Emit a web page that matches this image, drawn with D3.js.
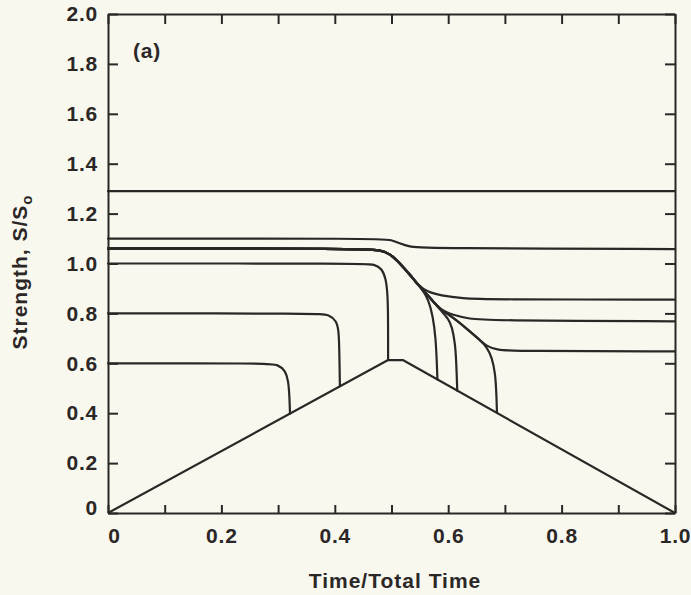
<!DOCTYPE html>
<html>
<head>
<meta charset="utf-8">
<script src="https://cdn.jsdelivr.net/npm/d3@7"></script>
<style>
  html, body { margin: 0; padding: 0; background: #f9f8ee; }
  svg { display: block; }
  text { font-family: "Liberation Sans", Arial, Helvetica, sans-serif; font-weight: bold; fill: #2b2727; }
</style>
</head>
<body>
<svg id="chart" width="691" height="595"></svg>
<script>
// Axis ticks
const timeTicks = [0, 0.1, 0.2, 0.3, 0.4, 0.5, 0.6, 0.7, 0.8, 0.9, 1.0];
const timeLabels = ["0", "", "0.2", "", "0.4", "", "0.6", "", "0.8", "", "1.0"];
const strengthTicks = [0, 0.2, 0.4, 0.6, 0.8, 1.0, 1.2, 1.4, 1.6, 1.8, 2.0];
const strengthLabels = ["0", "0.2", "0.4", "0.6", "0.8", "1.0", "1.2", "1.4", "1.6", "1.8", "2.0"];

// Applied stress history (time/total time, S/So)
const appliedStress = [[0, 0], [0.494, 0.613], [0.52, 0.613], [1.0, 0]];

// Strength histories, one per specimen
const strength129 = [[0, 1.29], [1.0, 1.29]];
const strength110 = [[0, 1.10], [0.48, 1.10], [0.50, 1.095], [0.515, 1.08], [0.533, 1.066], [0.56, 1.061], [1.0, 1.058]];
const strength106to086 = [[0, 1.06], [0.45, 1.06], [0.48, 1.054], [0.497, 1.04], [0.515, 1.0], [0.533, 0.954], [0.547, 0.914], [0.563, 0.886], [0.586, 0.872], [0.626, 0.86], [0.668, 0.856], [1.0, 0.855]];
const strength106fail058 = [[0, 1.06], [0.45, 1.06], [0.48, 1.054], [0.497, 1.04], [0.515, 1.0], [0.533, 0.954], [0.547, 0.914], [0.556, 0.89], [0.565, 0.855], [0.573, 0.79], [0.578, 0.70], [0.580, 0.60], [0.581, 0.535]];
const strength106to077 = [[0, 1.06], [0.45, 1.06], [0.48, 1.054], [0.497, 1.04], [0.515, 1.0], [0.533, 0.954], [0.547, 0.914], [0.57, 0.858], [0.586, 0.814], [0.608, 0.794], [0.638, 0.778], [0.668, 0.772], [1.0, 0.768]];
const strength106fail062 = [[0, 1.06], [0.45, 1.06], [0.48, 1.054], [0.497, 1.04], [0.515, 1.0], [0.533, 0.954], [0.547, 0.914], [0.57, 0.858], [0.586, 0.814], [0.600, 0.78], [0.607, 0.745], [0.612, 0.68], [0.614, 0.62], [0.616, 0.49]];
const strength106to065 = [[0, 1.06], [0.45, 1.06], [0.48, 1.054], [0.497, 1.04], [0.515, 1.0], [0.533, 0.954], [0.547, 0.914], [0.57, 0.858], [0.586, 0.814], [0.608, 0.786], [0.638, 0.728], [0.656, 0.693], [0.668, 0.668], [0.686, 0.653], [0.72, 0.649], [1.0, 0.648]];
const strength106fail069 = [[0, 1.06], [0.45, 1.06], [0.48, 1.054], [0.497, 1.04], [0.515, 1.0], [0.533, 0.954], [0.547, 0.914], [0.57, 0.858], [0.586, 0.814], [0.608, 0.786], [0.638, 0.728], [0.656, 0.693], [0.668, 0.665], [0.677, 0.625], [0.683, 0.56], [0.685, 0.48], [0.686, 0.402]];
const strength100 = [[0, 1.0], [0.45, 1.0], [0.47, 0.997], [0.483, 0.98], [0.49, 0.94], [0.493, 0.88], [0.494, 0.80], [0.494, 0.613]];
const strength080 = [[0, 0.80], [0.37, 0.80], [0.39, 0.795], [0.403, 0.77], [0.407, 0.73], [0.408, 0.65], [0.409, 0.508]];
const strength060 = [[0, 0.60], [0.28, 0.60], [0.30, 0.595], [0.313, 0.57], [0.318, 0.53], [0.320, 0.47], [0.321, 0.398]];

const strengthSeries = [
  strength129, strength110, strength106to086, strength106fail058, strength106to077,
  strength106fail062, strength106to065, strength106fail069, strength100, strength080, strength060
];

const ink = "#2b2727";
const svg = d3.select("#chart");

const x = d3.scaleLinear().domain([0, 1]).range([108, 675]);
const y = d3.scaleLinear().domain([0, 2]).range([513, 14]);

// Frame and inward ticks on all four sides
function styleAxis(g) {
  g.select(".domain").attr("stroke", ink).attr("stroke-width", 2);
  g.selectAll(".tick line").attr("stroke", ink).attr("stroke-width", 2);
  g.selectAll(".tick text")
    .attr("font-size", 21)
    .attr("letter-spacing", 0.8)
    .attr("font-family", null)
    .attr("fill", ink);
}

const xBottom = svg.append("g")
  .attr("transform", `translate(0,${y(0)})`)
  .call(d3.axisBottom(x).tickValues(timeTicks).tickSize(-8).tickSizeOuter(0).tickPadding(15)
    .tickFormat((d, i) => timeLabels[i]))
  .call(styleAxis);
xBottom.selectAll(".tick text").filter(d => d === 0).attr("dx", 6);

svg.append("g")
  .attr("transform", `translate(0,${y(2)})`)
  .call(d3.axisTop(x).tickValues(timeTicks).tickSize(-10).tickSizeOuter(0).tickFormat(""))
  .call(styleAxis);

const yLeft = svg.append("g")
  .attr("transform", `translate(${x(0)},0)`)
  .call(d3.axisLeft(y).tickValues(strengthTicks).tickSize(-10).tickSizeOuter(0).tickPadding(10)
    .tickFormat((d, i) => strengthLabels[i]))
  .call(styleAxis);
yLeft.selectAll(".tick text").filter(d => d === 0).attr("dy", "0.08em");

svg.append("g")
  .attr("transform", `translate(${x(1)},0)`)
  .call(d3.axisRight(y).tickValues(strengthTicks).tickSize(-10).tickSizeOuter(0).tickFormat(""))
  .call(styleAxis);

// Curves: B-spline through the read points keeps flats straight and bends rounded
const smooth = d3.line()
  .x(d => x(d[0]))
  .y(d => y(d[1]))
  .curve(d3.curveBasis);

const straight = d3.line()
  .x(d => x(d[0]))
  .y(d => y(d[1]));

svg.append("path")
  .attr("d", straight(appliedStress))
  .attr("fill", "none")
  .attr("stroke", ink)
  .attr("stroke-width", 2.2)
  .attr("stroke-linejoin", "round");

svg.append("g")
  .selectAll("path")
  .data(strengthSeries)
  .join("path")
  .attr("d", smooth)
  .attr("fill", "none")
  .attr("stroke", ink)
  .attr("stroke-width", 2.2)
  .attr("stroke-linejoin", "round")
  .attr("stroke-linecap", "round");

// Panel tag
svg.append("text")
  .attr("x", 133)
  .attr("y", 58)
  .attr("font-size", 21)
  .attr("letter-spacing", 0.8)
  .text("(a)");

// Axis titles
svg.append("text")
  .attr("x", 395)
  .attr("y", 588)
  .attr("text-anchor", "middle")
  .attr("font-size", 21)
  .attr("letter-spacing", 1)
  .text("Time/Total Time");

const yTitle = svg.append("text")
  .attr("transform", "translate(27,272) rotate(-90)")
  .attr("text-anchor", "middle")
  .attr("font-size", 21)
  .attr("letter-spacing", 1);
yTitle.append("tspan").text("Strength, S/S");
yTitle.append("tspan").attr("font-size", 15).attr("dy", 5).text("o");
</script>
</body>
</html>
